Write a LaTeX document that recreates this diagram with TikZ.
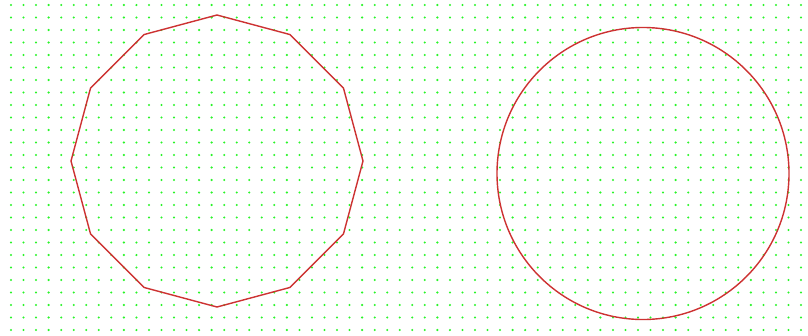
\documentclass[tikz,border=0pt]{standalone}
\definecolor{dotgreen}{RGB}{40,245,40}
\definecolor{shapered}{RGB}{205,50,50}
\tikzset{
  griddot/.style={fill=dotgreen,draw=none},
  shapeline/.style={draw=shapered,line width=1.4pt,line join=miter}
}
\begin{document}
\begin{tikzpicture}[x=1pt,y=-1pt]
\useasboundingbox[fill=white] (0,0) rectangle (808,335);
\foreach \i in {0,...,63}{
  \foreach \j in {0,...,26}{
    \fill[griddot] ({11+\i*12.54},{5+\j*12.5}) circle (1.15);
  }
}
% dodecagon
\draw[shapeline] (217,15)
  \foreach \a in {60,30,0,-30,-60,-90,-120,-150,180,150,120}{ -- ({217+146*cos(\a)},{161-146*sin(\a)}) } -- cycle;
% circle
\node[shapeline,circle,minimum size=292,inner sep=0pt] (c) at (643,173.5) {};
\end{tikzpicture}
\end{document}
